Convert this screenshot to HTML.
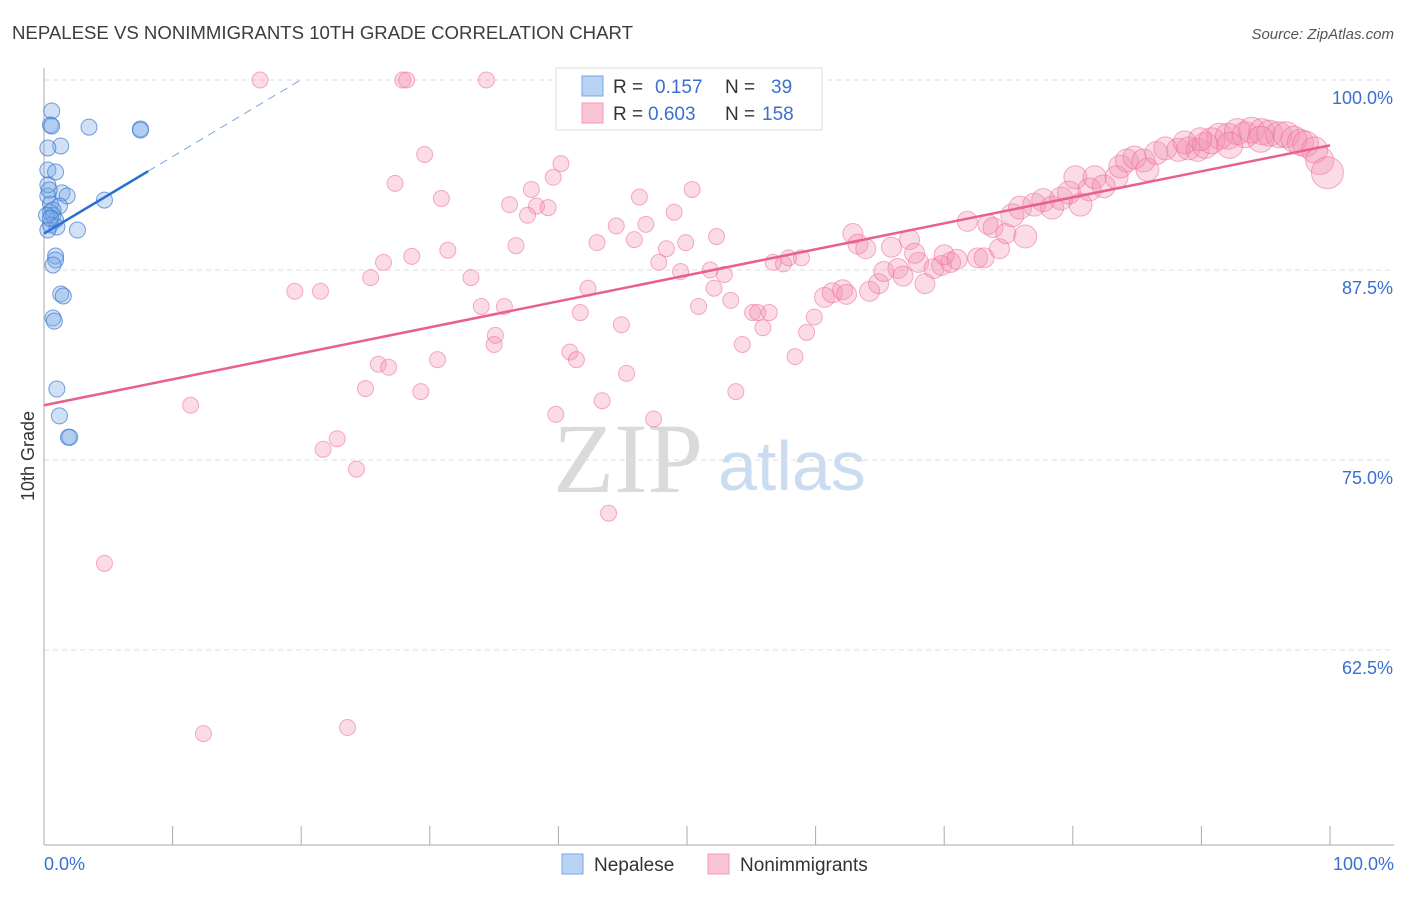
<!DOCTYPE html>
<html><head><meta charset="utf-8"><style>
body{margin:0;background:#fff;font-family:"Liberation Sans",sans-serif}
svg text{font-family:"Liberation Sans",sans-serif}
</style></head><body>
<svg id="chart" width="1406" height="892" xmlns="http://www.w3.org/2000/svg">
<text x="12" y="39" font-size="18.6" fill="#3c3c3c">NEPALESE VS NONIMMIGRANTS 10TH GRADE CORRELATION CHART</text>
<text x="1394" y="39" font-size="15" fill="#555" text-anchor="end" font-style="italic">Source: ZipAtlas.com</text>
<text x="553" y="492" font-size="100" fill="#dadada" style="font-family:'Liberation Serif',serif">ZIP</text>
<text x="718" y="490" font-size="70" fill="#cbdcf1">atlas</text>
<g id="grid"></g><g id="axes"></g><g id="pinkpts"></g><g id="bluepts"></g><g id="lines"></g>
<text transform="translate(34,456) rotate(-90)" font-size="18" fill="#333" text-anchor="middle">10th Grade</text>
<text x="44" y="870" font-size="18" fill="#3a6fd0">0.0%</text>
<text x="1394" y="870" font-size="18" fill="#3a6fd0" text-anchor="end">100.0%</text>
<g>
<rect x="556" y="68" width="266" height="62" fill="#fff" stroke="#ddd"/>
<rect x="582" y="76" width="21" height="20" fill="#b8d3f3" stroke="#7aa6e0"/>
<text x="613" y="93" font-size="19" fill="#333">R =</text><text x="655" y="93" font-size="19" fill="#3a6fd0">0.157</text>
<text x="725" y="93" font-size="19" fill="#333">N =</text><text x="771" y="93" font-size="19" fill="#3a6fd0">39</text>
<rect x="582" y="103" width="21" height="20" fill="#f9c5d4" stroke="#f09ab4"/>
<text x="613" y="120" font-size="19" fill="#333">R =</text><text x="648" y="120" font-size="19" fill="#3a6fd0">0.603</text>
<text x="725" y="120" font-size="19" fill="#333">N =</text><text x="762" y="120" font-size="19" fill="#3a6fd0">158</text>
</g>
<g><rect x="562" y="854" width="21" height="20" fill="#b8d3f3" stroke="#7aa6e0"/><text x="594" y="871" font-size="19" fill="#333">Nepalese</text></g>
<g><rect x="708" y="854" width="21" height="20" fill="#f9c5d4" stroke="#f09ab4"/><text x="740" y="871" font-size="19" fill="#333">Nonimmigrants</text></g>
</svg>
<script>
const yTicks=[100,87.5,75,62.5];
const yTickLabels=["100.0%","87.5%","75.0%","62.5%"];
const blueX=[0.6,0.5,0.6,3.5,7.5,7.5,1.3,0.3,0.3,0.9,1.4,1.8,0.3,0.5,1.2,4.7,0.5,0.7,0.9,0.5,1.0,2.6,0.3,0.9,0.9,0.7,1.3,1.5,0.7,0.8,1.0,1.2,1.9,2.0,0.3,0.4,0.7,0.2,0.5];
const blueY=[97.96,97.04,96.97,96.9,96.78,96.7,95.66,95.53,94.08,93.95,92.57,92.37,92.37,91.84,91.71,92.1,91.3,91.1,90.8,90.46,90.33,90.13,90.13,88.42,88.16,87.83,85.92,85.79,84.34,84.14,79.67,77.9,76.5,76.5,93.1,92.76,91.45,91.1,90.9];
const pinkX=[16.8,27.9,28.2,34.4,29.6,40.2,27.3,39.6,37.9,30.9,46.3,50.4,36.2,38.3,39.2,37.6,49.0,44.5,46.8,43.0,45.9,52.3,49.9,36.7,31.4,28.6,26.4,48.4,47.8,49.5,51.8,52.9,25.4,33.2,19.5,21.5,42.3,52.1,53.4,34.0,35.8,41.7,50.9,44.9,55.1,56.4,55.5,55.9,35.1,35.0,40.9,41.4,54.3,26.0,26.8,30.6,45.3,25.0,29.3,53.8,43.4,11.4,39.8,47.4,22.8,21.7,24.3,43.9,4.7,12.4,23.6,56.7,57.5,58.9,57.9,59.3,59.9,60.7,61.3,62.1,62.4,64.2,64.9,65.3,66.4,66.8,68.0,69.2,69.8,70.5,70.0,71.0,72.6,73.1,74.3,62.9,63.3,63.9,65.9,67.3,67.7,68.5,58.4,71.8,73.4,73.8,74.8,76.3,75.3,75.9,77.0,77.7,78.4,79.1,79.7,80.6,80.2,81.3,81.7,82.4,83.4,83.7,84.2,84.8,85.8,85.5,86.5,87.2,88.2,89.0,89.7,90.3,90.8,91.4,92.1,92.8,93.4,93.9,94.7,95.3,96.0,96.6,97.2,97.7,98.1,98.8,99.2,99.8,88.7,92.2,94.6,89.9];
const pinkY=[100,100,100,100,95.1,94.5,93.2,93.6,92.8,92.2,92.3,92.8,91.8,91.7,91.6,91.1,91.3,90.4,90.5,89.3,89.5,89.7,89.3,89.1,88.8,88.4,88.0,88.9,88.0,87.4,87.5,87.2,87.0,87.0,86.1,86.1,86.3,86.3,85.5,85.1,85.1,84.7,85.1,83.9,84.7,84.7,84.7,83.7,83.2,82.6,82.1,81.6,82.6,81.3,81.1,81.6,80.7,79.7,79.5,79.5,78.9,78.6,78.0,77.7,76.4,75.7,74.4,71.5,68.2,57.0,57.4,88.0,87.9,88.3,88.3,83.4,84.4,85.7,86.0,86.2,85.9,86.1,86.6,87.4,87.6,87.1,88.0,87.6,87.8,88.0,88.5,88.2,88.3,88.3,88.9,89.9,89.2,88.9,89.0,89.5,88.6,86.6,81.8,90.7,90.5,90.3,89.9,89.7,91.1,91.6,91.8,92.1,91.6,92.2,92.6,91.8,93.6,92.8,93.6,93.0,93.6,94.3,94.7,94.9,94.1,94.7,95.2,95.5,95.4,95.5,95.4,95.7,96.0,96.3,96.3,96.6,96.4,96.7,96.6,96.5,96.4,96.4,96.1,95.9,95.8,95.4,94.7,93.9,95.9,95.7,96.1,96.1];
const pinkFit=[78.6,95.7];
const blueFit=[89.9,94.0];
const blueFitEndX=8.1;
const NS="http://www.w3.org/2000/svg";
const xs=v=>44+v*12.86;
const ys=v=>80+(100-v)*15.2;
function mk(tag,attrs,parent){const e=document.createElementNS(NS,tag);for(const k in attrs)e.setAttribute(k,attrs[k]);parent.appendChild(e);return e;}
const grid=document.getElementById('grid'),axes=document.getElementById('axes');
yTicks.forEach((t,i)=>{
  const l=mk('line',{x1:44,x2:1394,y1:ys(t),y2:ys(t),stroke:'#ddd','stroke-dasharray':'5,4'},grid);
  
  
  const tx=mk('text',{x:1393,y:ys(t)+24,'font-size':18,fill:'#3a6fd0','text-anchor':'end'},grid);
  tx.textContent=yTickLabels[i];
  
  
});
const ya=mk('line',{x1:44,x2:44,y1:68,y2:845,stroke:'#aaa'},axes);


const xa=mk('line',{x1:44,x2:1394,y1:845,y2:845,stroke:'#aaa'},axes);


for(let i=0;i<=10;i++){const t=mk('line',{x1:xs(i*10),x2:xs(i*10),y1:826,y2:845,stroke:'#aaa'},axes);

}
const pg=document.getElementById('pinkpts');
pinkX.forEach((x,i)=>{
  let r=x<60?8:x<75?10:x<90?11.5:13; if(x>99.5)r=16; else if(x>99)r=14;
  const c=mk('circle',{cx:xs(x),cy:ys(pinkY[i]),r:r,fill:'rgba(244,143,177,0.32)',stroke:'rgba(236,110,150,0.55)','stroke-width':1},pg);
  
  
});
const bg=document.getElementById('bluepts');
blueX.forEach((x,i)=>{
  const c=mk('circle',{cx:xs(x),cy:ys(blueY[i]),r:8,fill:'rgba(120,170,230,0.35)',stroke:'rgba(60,120,210,0.7)','stroke-width':1},bg);
  
  
});
const lg=document.getElementById('lines');
const pl=mk('line',{x1:xs(0),y1:ys(pinkFit[0]),x2:xs(100),y2:ys(pinkFit[1]),stroke:'#e8608e','stroke-width':2.5},lg);


const slope=(blueFit[1]-blueFit[0])/blueFitEndX;
const bl=mk('line',{x1:xs(0),y1:ys(blueFit[0]),x2:xs(blueFitEndX),y2:ys(blueFit[1]),stroke:'#2a6fd6','stroke-width':2.5},lg);


const ex=(100-blueFit[0])/slope;
const bd=mk('line',{x1:xs(blueFitEndX),y1:ys(blueFit[1]),x2:xs(ex),y2:ys(100),stroke:'#7aa6e0','stroke-width':1,'stroke-dasharray':'8,6'},lg);


</script>
</body></html>
